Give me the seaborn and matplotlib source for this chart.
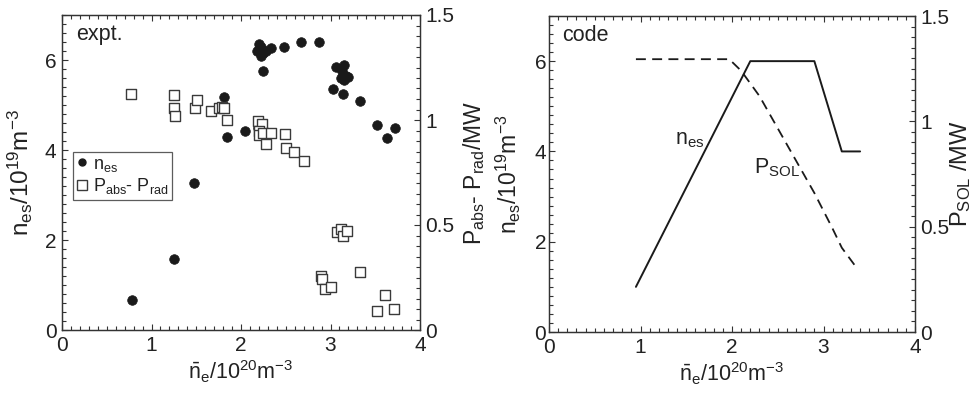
import numpy as np
import pandas as pd
import matplotlib
matplotlib.use("Agg")
import matplotlib.pyplot as plt
import seaborn as sns
from matplotlib.ticker import MultipleLocator
from matplotlib.lines import Line2D

# ---------------- data ----------------
# experiment: separatrix density n_es (left axis)
nes_x = [0.78, 1.25, 1.47, 1.81, 1.84, 2.05, 2.19, 2.20, 2.22, 2.18, 2.25, 2.22, 2.28, 2.20,
         2.33, 2.25, 2.48, 2.67, 2.87, 3.06, 3.15, 3.13, 3.17, 3.20, 3.15, 3.12, 3.03, 3.14,
         3.33, 3.52, 3.63, 3.72]
nes_y = [0.67, 1.57, 3.26, 5.17, 4.30, 4.42, 4.50, 6.35, 6.30, 6.20, 6.15, 6.10, 6.20, 6.25,
         6.27, 5.75, 6.30, 6.41, 6.41, 5.85, 5.90, 5.75, 5.65, 5.62, 5.55, 5.60, 5.35, 5.25,
         5.08, 4.55, 4.26, 4.50]
# experiment: P_abs - P_rad (right axis, MW)
p_x = [0.77, 1.25, 1.25, 1.26, 1.49, 1.51, 1.66, 1.75, 1.79, 1.81, 1.84, 2.19, 2.23, 2.20,
       2.20, 2.25, 2.33, 2.28, 2.49, 2.50, 2.59, 2.70, 3.07, 3.12, 3.14, 3.18, 2.89, 2.90,
       2.94, 3.01, 3.33, 3.52, 3.61, 3.71]
p_y = [1.126, 1.121, 1.058, 1.020, 1.058, 1.094, 1.043, 1.058, 1.063, 1.058, 1.000, 0.995,
       0.980, 0.948, 0.929, 0.937, 0.940, 0.885, 0.932, 0.866, 0.847, 0.803, 0.468, 0.480,
       0.449, 0.472, 0.255, 0.244, 0.197, 0.205, 0.276, 0.090, 0.165, 0.102]
# code: n_es (left axis) and P_SOL (right axis)
code_nes_x = [0.95, 1.2, 1.7, 2.2, 2.9, 3.2, 3.4]
code_nes_y = [1.0, 2.0, 4.0, 6.0, 6.0, 4.0, 4.0]
code_psol_x = [0.95, 1.97, 2.1, 2.3, 2.6, 2.9, 3.1, 3.2, 3.37]
code_psol_y = [1.295, 1.295, 1.24, 1.12, 0.89, 0.66, 0.49, 0.40, 0.30]

panel_titles = ["expt.", "code"]
xlabel = r"$\bar{n}_e/10^{20}m^{-3}$"
ylabel_left = r"$n_{es}/10^{19}m^{-3}$"
ylabel_right = [r"$P_{abs}$- $P_{rad}$/MW", r"$P_{SOL}$ /MW"]

df_nes = pd.DataFrame({"x": nes_x, "y": nes_y})
df_p = pd.DataFrame({"x": p_x, "y": p_y})
df_cn = pd.DataFrame({"x": code_nes_x, "y": code_nes_y})
df_cp = pd.DataFrame({"x": code_psol_x, "y": code_psol_y})

# ---------------- style ----------------
sns.set_style("ticks")
plt.rcParams["font.family"] = ["Liberation Sans", "DejaVu Sans"]
plt.rcParams["mathtext.fontset"] = "custom"
plt.rcParams["mathtext.rm"] = "Liberation Sans"
plt.rcParams["mathtext.it"] = "Liberation Sans"
plt.rcParams["mathtext.default"] = "regular"
plt.rcParams["axes.edgecolor"] = "#333333"
plt.rcParams["axes.linewidth"] = 0.9
FS = 15.5
TFS = 15
DARK = "#1a1a1a"
TXT = "#222222"

fig = plt.figure(figsize=(9.73, 3.95), dpi=100)
W, H = 973.0, 395.0
axL = fig.add_axes([62 / W, 1 - 330 / H, (420 - 62) / W, (330 - 15) / H])
axR = fig.add_axes([549 / W, 1 - 332 / H, (915 - 549) / W, (332 - 16) / H])


def gfmt(v, pos=None):
    return "%g" % v


def style_axes(ax, ax2):
    ax.set_xlim(0, 4)
    ax.set_ylim(0, 7)
    ax2.set_ylim(0, 1.5)
    ax.xaxis.set_major_locator(MultipleLocator(1))
    ax.xaxis.set_minor_locator(MultipleLocator(0.1))
    ax.yaxis.set_major_locator(MultipleLocator(2))
    ax.yaxis.set_minor_locator(MultipleLocator(0.2))
    ax2.yaxis.set_major_locator(MultipleLocator(0.5))
    ax2.yaxis.set_minor_locator(MultipleLocator(0.05))
    ax.xaxis.set_major_formatter(plt.FuncFormatter(gfmt))
    ax.yaxis.set_major_formatter(plt.FuncFormatter(gfmt))
    ax2.yaxis.set_major_formatter(plt.FuncFormatter(gfmt))
    for a in (ax, ax2):
        a.tick_params(which="both", direction="in", colors="#333333",
                      labelcolor=TXT, labelsize=TFS, width=0.8)
        a.tick_params(which="major", length=4.5)
        a.tick_params(which="minor", length=3)
    ax.tick_params(which="both", top=True, right=False, pad=4)
    ax2.tick_params(which="both", left=False, right=True, pad=4)
    ax.set_xlabel(xlabel, fontsize=FS, color=TXT, labelpad=3)


# ---------------- left panel: experiment ----------------
axL2 = axL.twinx()
sns.scatterplot(data=df_nes, x="x", y="y", ax=axL, marker="o", s=48,
                color=DARK, edgecolor=DARK, linewidth=0.5, zorder=3)
sns.scatterplot(data=df_p, x="x", y="y", ax=axL2, marker="s", s=52,
                facecolor="white", edgecolor="#3a3a3a", linewidth=1.0, zorder=3)
style_axes(axL, axL2)
axL.set_ylabel(ylabel_left, fontsize=17.5, color=TXT)
axL.yaxis.set_label_coords(-0.075, 0.5)
axL2.set_ylabel(ylabel_right[0], fontsize=16.5, color=TXT)
axL2.yaxis.set_label_coords(1.115, 0.5)
axL.text(0.04, 0.97, panel_titles[0], transform=axL.transAxes, fontsize=FS,
         va="top", ha="left", color=TXT)

handles = [
    Line2D([], [], marker="o", linestyle="none", markersize=5, color=DARK),
    Line2D([], [], marker="s", linestyle="none", markersize=7.5,
           markerfacecolor="white", markeredgecolor="#3a3a3a", markeredgewidth=1.0),
]
leg = axL2.legend(handles, [r"$n_{es}$", r"$P_{abs}$- $P_{rad}$"], loc="upper left",
                  bbox_to_anchor=(0.031, 0.565), borderaxespad=0, fontsize=13,
                  frameon=True, fancybox=False, handlelength=0.6, handletextpad=0.3,
                  borderpad=0.2, labelspacing=0.15, edgecolor="#333333")
leg.get_frame().set_linewidth(0.9)
for t in leg.get_texts():
    t.set_color(TXT)

# ---------------- right panel: code ----------------
axR2 = axR.twinx()
sns.lineplot(data=df_cn, x="x", y="y", ax=axR, color=DARK, linewidth=1.4,
             estimator=None, sort=False)
sns.lineplot(data=df_cp, x="x", y="y", ax=axR2, color=DARK, linewidth=1.3,
             estimator=None, sort=False, linestyle="--")
axR2.lines[-1].set_dashes([5.5, 3.5])
style_axes(axR, axR2)
axR.set_ylabel(ylabel_left, fontsize=16.5, color=TXT)
axR.yaxis.set_label_coords(-0.072, 0.5)
axR2.set_ylabel(ylabel_right[1], fontsize=17, color=TXT)
axR2.yaxis.set_label_coords(1.09, 0.5)
axR.tick_params(axis="y", pad=2)
axR.text(0.035, 0.97, panel_titles[1], transform=axR.transAxes, fontsize=FS,
         va="top", ha="left", color=TXT)
axR.text(1.54, 4.26, r"$n_{es}$", fontsize=FS, ha="center", va="center", color=TXT)
axR.text(2.49, 3.64, r"$P_{SOL}$", fontsize=FS, ha="center", va="center", color=TXT)

fig.savefig("out.png", dpi=100)
